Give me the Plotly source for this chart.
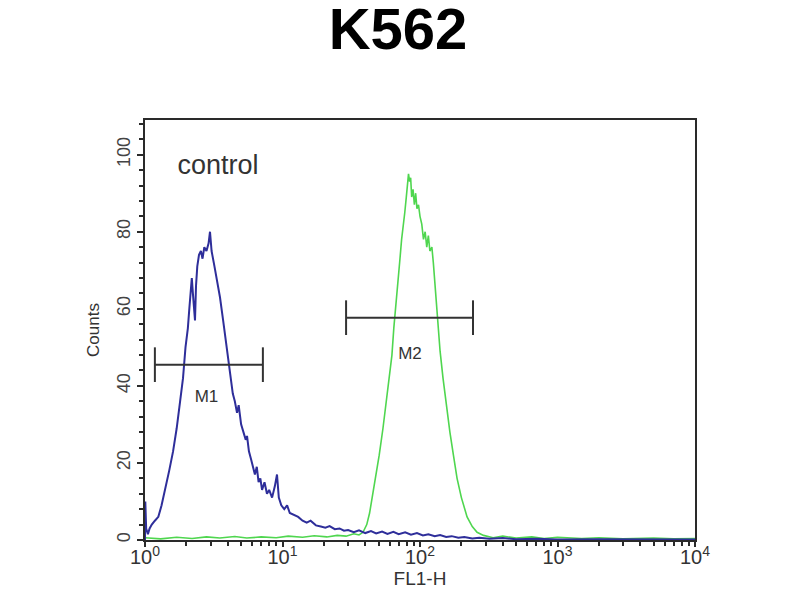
import plotly.graph_objects as go

# ---------------- data ----------------
control_x = [1.0, 1.005, 1.02, 1.05, 1.08, 1.12, 1.18, 1.25, 1.32, 1.40, 1.50, 1.60, 1.70, 1.80, 1.89, 1.97,
             2.05, 2.10, 2.15, 2.19, 2.23, 2.27, 2.31, 2.35, 2.40, 2.47, 2.55, 2.62, 2.70, 2.80, 2.90, 2.97,
             3.05, 3.20, 3.35, 3.51, 3.70, 3.85, 4.02, 4.20, 4.35, 4.50, 4.67, 4.80, 5.00, 5.20, 5.40, 5.52,
             5.70, 5.90, 6.10, 6.30, 6.50, 6.70, 6.90, 7.10, 7.40, 7.71, 8.0, 8.4, 8.8, 9.12, 9.4, 9.8,
             10.3, 10.8, 11.3, 12, 13, 14, 15, 16, 17.5, 19, 20.5, 22, 24, 26, 28, 30, 33, 36, 40, 44, 48,
             53, 58, 64, 70, 78, 86, 95, 105, 115, 128, 140, 155, 170, 190, 210, 240, 270, 320, 400, 500,
             700, 1000, 2000, 5000, 10000]
control_y = [0, 10, 3, 1.5, 3, 4, 5, 6, 9, 13, 18, 23, 29, 36, 42, 50,
             55, 60, 66, 68, 64, 60, 57, 66, 71, 74, 75, 73, 76, 75, 77, 80,
             75, 71, 67, 63, 57, 52, 47, 42, 38, 36, 33, 35, 30, 28, 26, 27,
             23, 21, 19, 17, 19, 15, 16, 13, 15, 12, 13, 11, 14, 17, 11, 9,
             8, 9, 7, 6.5, 6, 5, 4.5, 5, 3.8, 3.5, 3.2, 3.6, 2.8, 3, 2.4, 2.6, 2.0, 2.5, 1.8, 2.3, 1.7,
             2.2, 1.6, 2.1, 1.5, 2.0, 1.4, 1.8, 1.2, 1.5, 1.0, 1.3, 0.8, 1.0, 0.6, 0.8, 0.4, 0.6, 0.3, 0.5, 0.2,
             0.3, 0.1, 0.2, 0.1, 0.1]

sample_x = [1.0, 1.3, 1.7, 2.2, 2.8, 3.5, 4.5, 5.5, 7, 9, 11, 14, 17, 21, 25, 29, 33, 36, 38.5, 41, 43,
            45.5, 48, 50.5, 53.8, 56, 58.5, 60.5, 62.5, 64.5, 66.5, 68, 69.5, 71.5, 73.5, 75.5, 77.5, 79.5,
            81, 82.5, 84, 85.5, 87, 89, 91, 93, 95, 97.5, 100, 103, 106, 109, 112, 115, 118, 122, 125, 128,
            131, 135, 140, 147, 155, 165, 175, 186, 200, 220, 240, 260, 290, 340, 400, 500, 650, 800, 1000,
            1500, 2000, 3000, 5000, 7000, 10000]
sample_y = [0.6, 0.3, 0.7, 0.4, 0.8, 0.5, 0.9, 0.5, 0.8, 0.6, 1.0, 0.7, 1.1, 0.8, 1.2, 1.0, 1.6, 1.3, 2.0, 4, 7,
            12, 17, 22, 29, 34, 39, 44, 48, 55, 61, 65, 69, 73, 78, 81, 85, 89,
            92, 95, 93, 94, 89, 91, 87, 90, 86, 87, 84, 82, 78, 80, 76, 79, 75, 76, 72, 67,
            61, 55, 49, 42, 35, 28, 22, 16, 11, 6, 3.5, 2, 1.2, 0.6, 1.0, 0.5, 0.8, 0.4, 0.7,
            0.4, 0.6, 0.3, 0.5, 0.3, 0.4]

gate_names = ["M1", "M2"]
gate_start = [1.18, 29]
gate_end = [7.2, 243]
gate_level = [45.5, 57.7]
gate_label_x = [2.8, 84.5]
gate_label_y = [37.0, 48.2]
cap_half = 4.5

x_tickvals = [1, 10, 100, 1000, 10000]
x_ticktext = ["10<sup>0</sup>", "10<sup>1</sup>", "10<sup>2</sup>", "10<sup>3</sup>", "10<sup>4</sup>"]
y_tickvals = [0, 20, 40, 60, 80, 100]

FONT = "Liberation Sans, Arial, sans-serif"
AXC = "#2a2a2a"

fig = go.Figure()

fig.add_trace(go.Scatter(x=sample_x, y=sample_y, mode="lines",
                         line=dict(color="#4fd64f", width=1.6), showlegend=False))
fig.add_trace(go.Scatter(x=control_x, y=control_y, mode="lines",
                         line=dict(color="#2e2e9a", width=2), showlegend=False))

# gate bars
gx, gy = [], []
for s, e, lv in zip(gate_start, gate_end, gate_level):
    gx += [s, e, None, s, s, None, e, e, None]
    gy += [lv, lv, None, lv - cap_half, lv + cap_half, None, lv - cap_half, lv + cap_half, None]
fig.add_trace(go.Scatter(x=gx, y=gy, mode="lines", line=dict(color="#333333", width=2),
                         showlegend=False, hoverinfo="skip"))
fig.add_trace(go.Scatter(x=gate_label_x, y=gate_label_y, mode="text", text=gate_names,
                         textfont=dict(family=FONT, size=17, color="#333333"),
                         showlegend=False, hoverinfo="skip"))
fig.add_trace(go.Scatter(x=[3.4], y=[96.8], mode="text", text=["control"],
                         textfont=dict(family=FONT, size=27, color="#333333"),
                         showlegend=False, hoverinfo="skip"))

minor_x = [m * 10 ** d for d in range(4) for m in range(2, 10)]

fig.update_layout(
    width=800, height=600,
    paper_bgcolor="white", plot_bgcolor="white",
    margin=dict(l=137, r=113, t=112, b=68),
    title=dict(text="<b>K562</b>", x=0.4875, xanchor="center", y=0.966, yanchor="middle",
               font=dict(family=FONT, size=58, color="black")),
    font=dict(family=FONT, color="#333333"),
    xaxis=dict(type="log", range=[0, 4], tickmode="array", tickvals=x_tickvals, ticktext=x_ticktext,
               ticks="outside", ticklen=5, tickwidth=2, tickcolor=AXC, ticklabelstandoff=-7,
               showline=True, linecolor=AXC, linewidth=2, mirror=True,
               showgrid=False, zeroline=False, tickfont=dict(size=20, color="#333333"),
               minor=dict(tickmode="array", tickvals=minor_x, ticks="outside", ticklen=4,
                          tickwidth=2, tickcolor=AXC, showgrid=False),
               title=dict(text="FL1-H", font=dict(size=19, color="#333333"), standoff=0)),
    yaxis=dict(range=[0, 109], tickmode="array", tickvals=y_tickvals,
               ticks="outside", ticklen=6, tickwidth=2, tickcolor=AXC, tickangle=-90,
               showline=True, linecolor=AXC, linewidth=2, mirror=True,
               showgrid=False, zeroline=False, tickfont=dict(size=18, color="#444444"),
               minor=dict(dtick=4, ticks="outside", ticklen=4, tickwidth=2, tickcolor=AXC, showgrid=False),
               title=dict(text="Counts", font=dict(size=17, color="#333333"), standoff=10)),
)

fig.write_html("out.html")
